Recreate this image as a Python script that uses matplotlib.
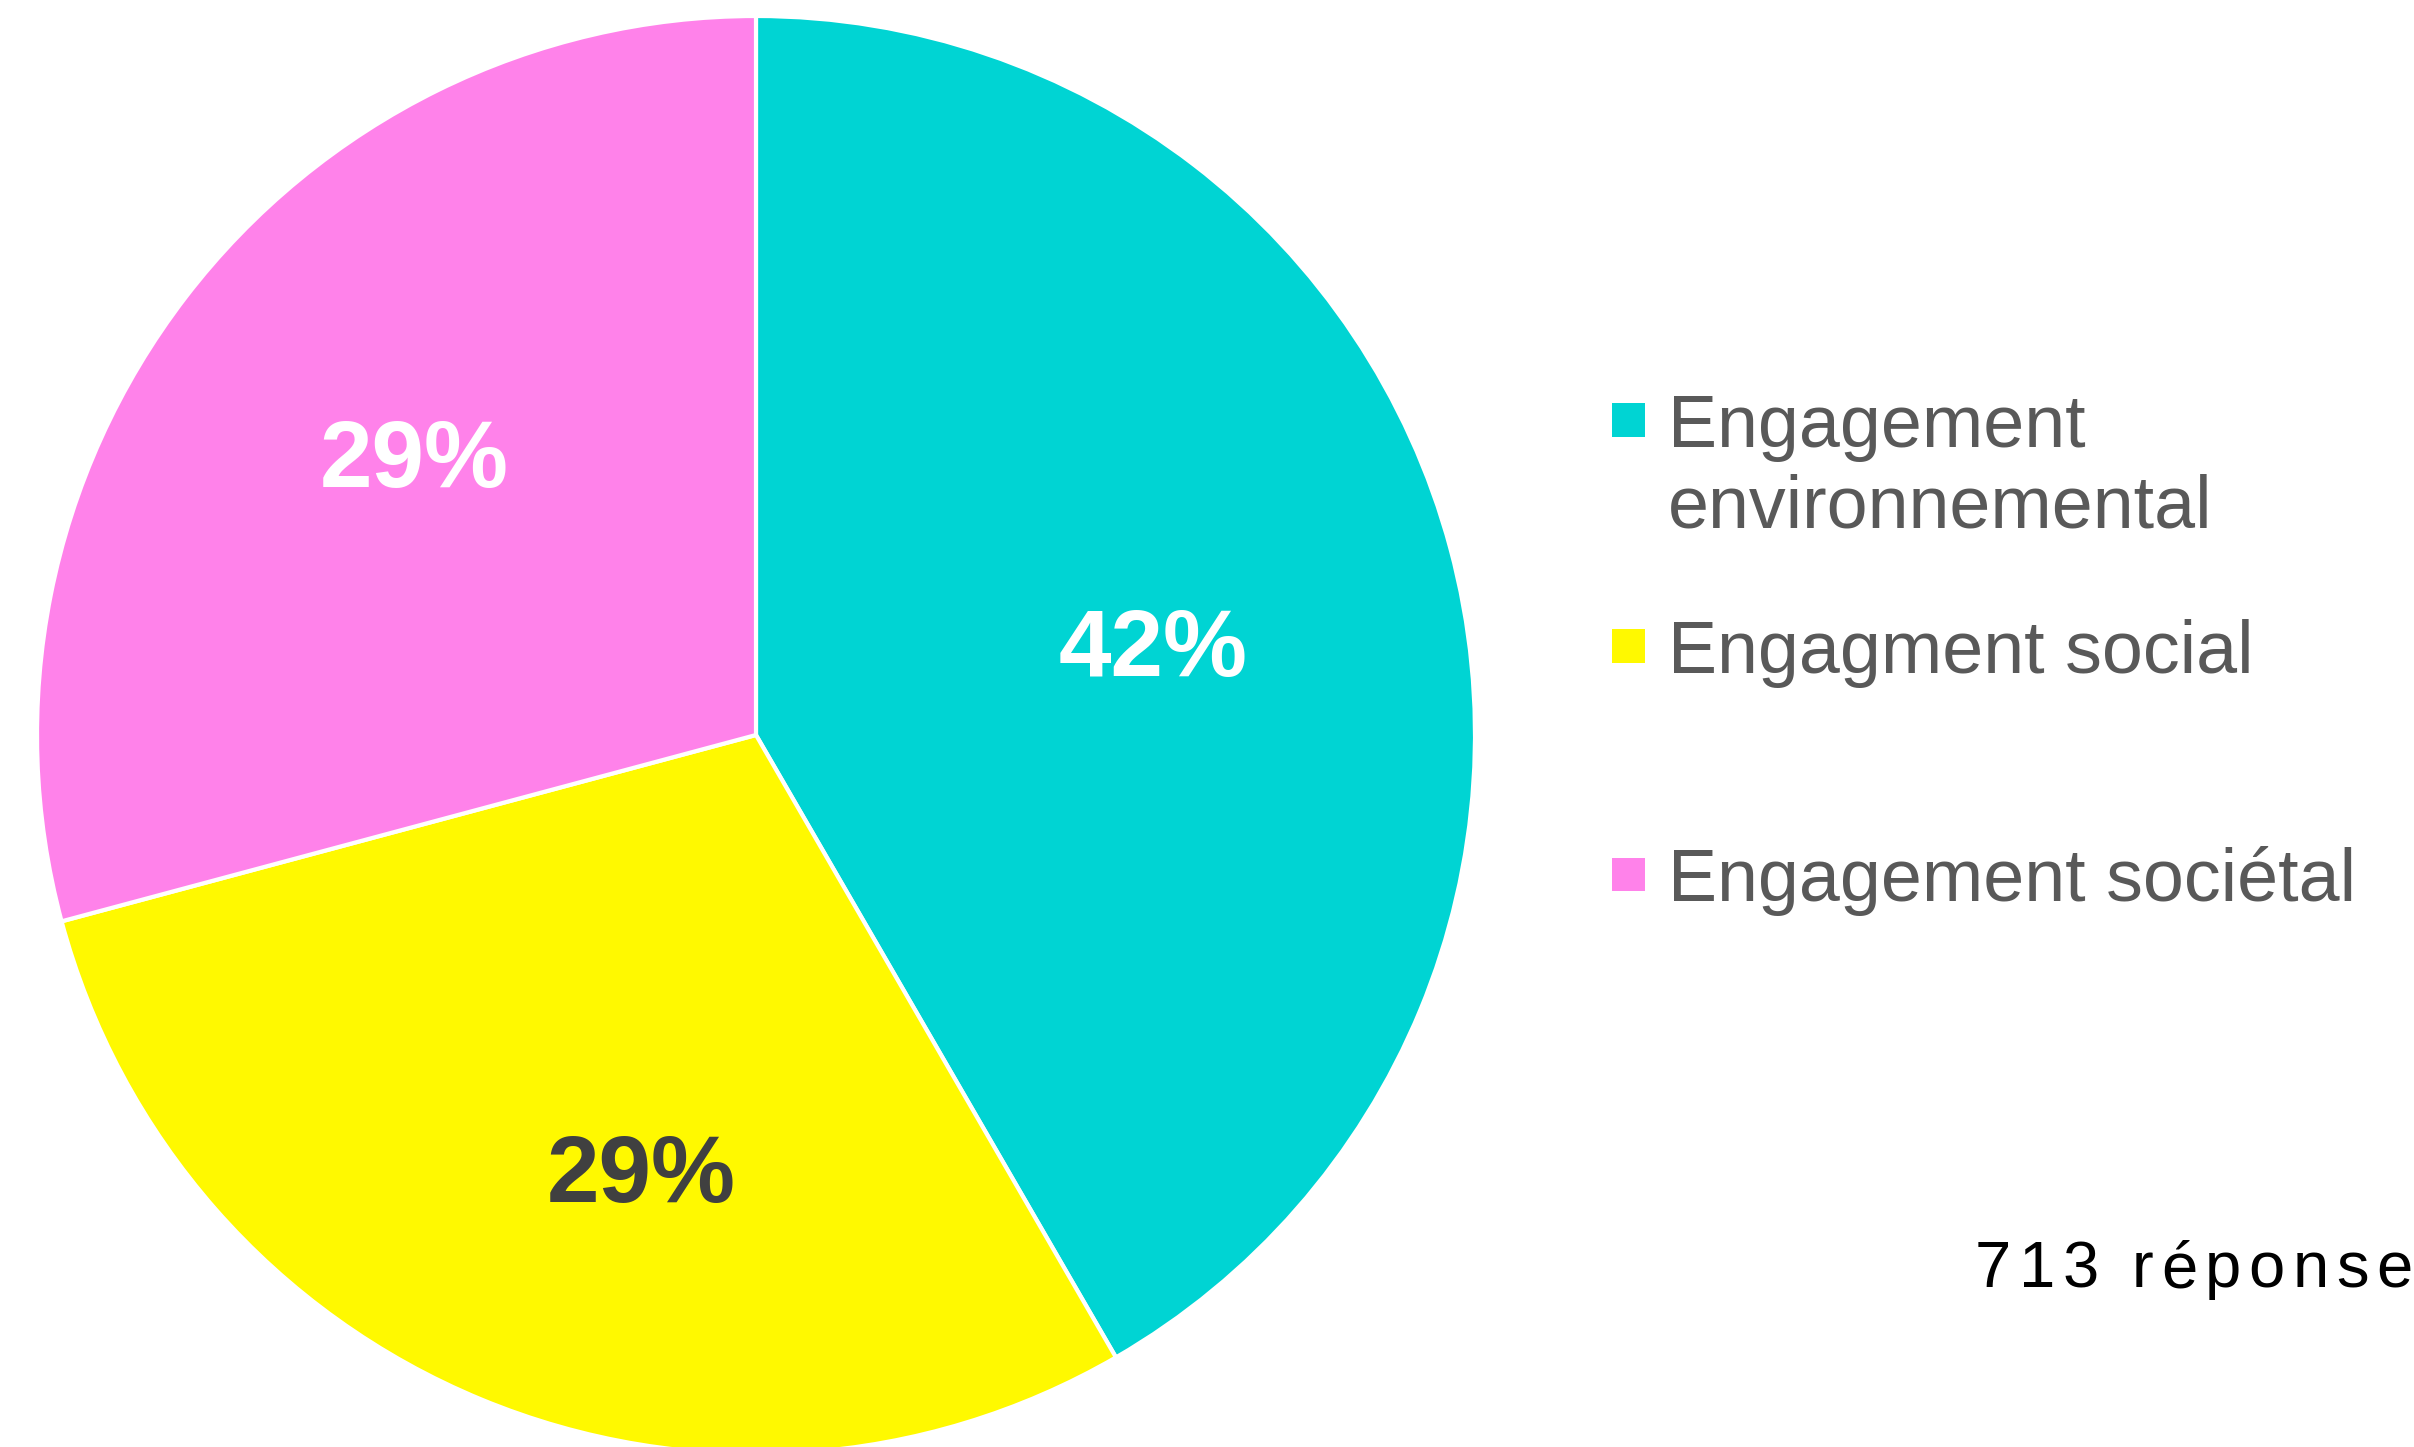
import matplotlib
matplotlib.use('Agg')
import matplotlib.pyplot as plt
from matplotlib.patches import Rectangle
import numpy as np

plt.rcParams['font.family'] = ['Liberation Sans', 'DejaVu Sans']

# data: 713 responses
labels = ['Engagement\nenvironnemental', 'Engagment social', 'Engagement sociétal']
counts = [297, 208, 208]
colors = ['#00D4D3', '#FFF900', '#FF82EA']
pct_colors = ['white', '#404040', 'white']
note = '713 réponses'

W, H = 2414, 1447
fig = plt.figure(figsize=(W / 100, H / 100), dpi=100)

# pie: centre (756, 735) px from top, radius 719 px
cx, cy, r = 756, 735, 719
ax = fig.add_axes([(cx - r) / W, (H - cy - r) / H, 2 * r / W, 2 * r / H])
wedges, texts, autotexts = ax.pie(
    counts, colors=colors, startangle=90, counterclock=False,
    autopct=lambda p: f'{p:.0f}%', pctdistance=0.6,
    wedgeprops=dict(edgecolor='white', linewidth=3),
    textprops=dict(fontsize=68, fontweight='bold'))
ax.set_xlim(-1, 1)
ax.set_ylim(-1, 1)
ax.set_aspect('equal')
ax.axis('off')

# nudge labels to where the original puts them
label_r = [0.567, 0.625, 0.615]
label_shift = [-2.0, 7.7, -1.9]
for w, t, c, lr, sh in zip(wedges, autotexts, pct_colors, label_r, label_shift):
    ang = np.deg2rad((w.theta1 + w.theta2) / 2 + sh)
    t.set_position((lr * np.cos(ang), lr * np.sin(ang) - 0.011))
    t.set_color(c)

# legend drawn by hand (uneven spacing as in the original)
leg_base = [447, 673, 901]
line_gap = 81
for lab, col, yb in zip(labels, colors, leg_base):
    fig.patches.append(Rectangle((1612 / W, (H - yb + 27 - 16.5) / H), 33 / W, 33 / H,
                                 transform=fig.transFigure, facecolor=col,
                                 edgecolor='none'))
    for j, line in enumerate(lab.split('\n')):
        fig.text(1668 / W, (H - yb - j * line_gap) / H, line, fontsize=53,
                 color='#595959', va='baseline', ha='left')

# letter-spaced note, clipped by the right edge like the original
renderer = fig.canvas.get_renderer()


def text_width(s):
    t1 = fig.text(0, 0, s + '|', fontsize=47)
    t2 = fig.text(0, 0, '|', fontsize=47)
    w = t1.get_window_extent(renderer).width - t2.get_window_extent(renderer).width
    t1.remove()
    t2.remove()
    return w


x0, yb, spacing = 1975, 1287, 7.5
for i, ch in enumerate(note):
    x = x0 + text_width(note[:i]) + i * spacing
    fig.text(x / W, (H - yb) / H, ch, fontsize=47, color='black',
             va='baseline', ha='left')

fig.savefig('out.png', dpi=100)
